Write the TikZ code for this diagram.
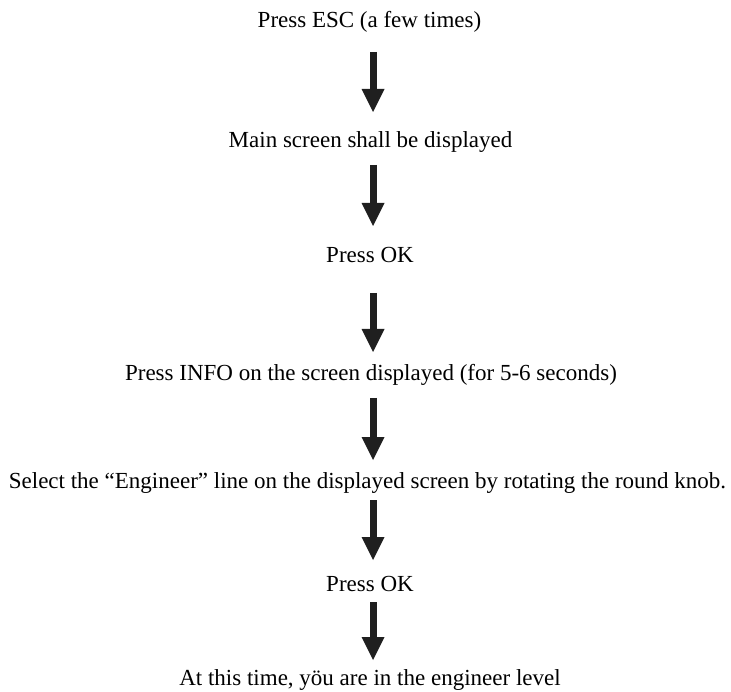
\documentclass[tikz,border=0pt]{standalone}
\usepackage{fontspec}
\setmainfont{Liberation Serif}
\usetikzlibrary{arrows.meta}
\begin{document}
\begin{tikzpicture}[x=1pt,y=-1pt,
  lbl/.style={anchor=base,inner sep=0pt,font=\fontsize{23}{27}\selectfont},
  flowarrow/.style={line width=7pt,draw=black!88,-{Triangle[width=23pt,length=23pt,line width=0pt]}}]
\useasboundingbox (0,0) rectangle (731,692);
\node[lbl] (s1) at (369.5,28) {Press ESC (a few times)};
\node[lbl] (s2) at (370.5,148) {Main screen shall be displayed};
\node[lbl] (s3) at (370,263) {Press OK};
\node[lbl] (s4) at (371,381) {Press INFO on the screen displayed (for 5-6 seconds)};
\node[lbl] (s5) at (367.5,488) {Select the “Engineer” line on the displayed screen by rotating the round knob.};
\node[lbl] (s6) at (370,591) {Press OK};
\node[lbl] (s7) at (370,685) {At this time, yöu are in the engineer level};
\coordinate (a1s) at (373,52);  \coordinate (a1e) at (373,112);
\coordinate (a2s) at (373,165); \coordinate (a2e) at (373,226);
\coordinate (a3s) at (373,293); \coordinate (a3e) at (373,352);
\coordinate (a4s) at (373,398); \coordinate (a4e) at (373,460);
\coordinate (a5s) at (373,500); \coordinate (a5e) at (373,560);
\coordinate (a6s) at (373,602); \coordinate (a6e) at (373,660);
\draw[flowarrow] (a1s) -- (a1e);
\draw[flowarrow] (a2s) -- (a2e);
\draw[flowarrow] (a3s) -- (a3e);
\draw[flowarrow] (a4s) -- (a4e);
\draw[flowarrow] (a5s) -- (a5e);
\draw[flowarrow] (a6s) -- (a6e);
\end{tikzpicture}
\end{document}
